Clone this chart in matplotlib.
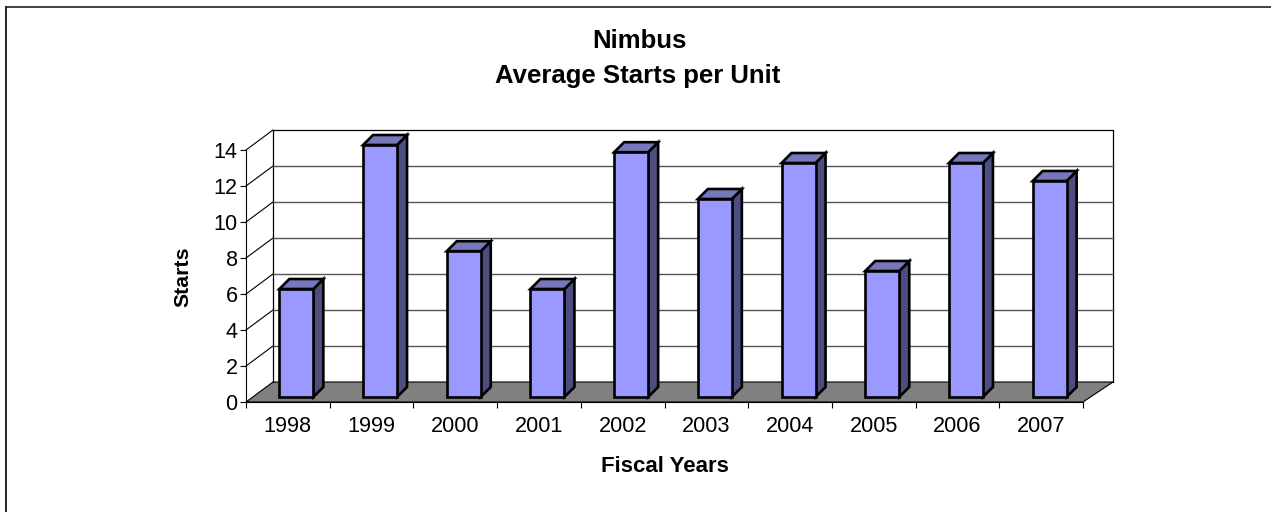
#!/usr/bin/env python3
# -*- coding: utf-8 -*-

# Import libraries
import matplotlib
matplotlib.use("Agg")
import matplotlib.pyplot as plt
from matplotlib.patches import Polygon

# Chart data
years = ["1998", "1999", "2000", "2001", "2002", "2003", "2004", "2005", "2006", "2007"]
starts = [6, 14, 8.1, 6, 13.6, 11, 13, 7, 13, 12]
y_ticks = [0, 2, 4, 6, 8, 10, 12, 14]

W, H = 1271, 512
plt.rcParams["font.family"] = ["Liberation Sans", "DejaVu Sans"]

fig = plt.figure(figsize=(W / 100, H / 100), dpi=100)

# Front plane of the fake 3D box, placed in pixels
left, right, base, top = 246, 1083, 402, 150
ax = fig.add_axes([left / W, 1 - base / H, (right - left) / W, (base - top) / H])
ax.set_xlim(0, len(years))
ax.set_ylim(0, 14)
ax.patch.set_visible(False)

# Depth of the box in data units
n = len(years)
px_x = (right - left) / n
px_y = (base - top) / 14
dx_l = 27 / px_x
dx_r = 30 / px_x
dy = 20 / px_y

# Floor and back wall
ax.add_patch(Polygon([(0, 0), (n, 0), (n + dx_r, dy), (dx_l, dy)], fc="#808080", ec="black", lw=0.8, clip_on=False, zorder=1))
ax.plot([dx_l, dx_l, n + dx_r, n + dx_r], [dy, 14 + dy, 14 + dy, dy], color="black", lw=0.9, clip_on=False, zorder=2)
ax.plot([0, dx_l], [14, 14 + dy], color="black", lw=0.8, clip_on=False, zorder=2)

# Grid on back wall and left wall
for t in y_ticks[1:-1]:
    ax.plot([dx_l, n + dx_r], [t + dy, t + dy], color="#555555", lw=1.0, clip_on=False, zorder=2)
    ax.plot([0, dx_l], [t, t + dy], color="black", lw=0.8, clip_on=False, zorder=2)

# Bars: front, top and side faces
bar_w = 34 / px_x
depth_x = 10 / px_x
depth_y = 10 / px_y
off_x = 8.5 / px_x
off_y = 5 / px_y
for i, v in enumerate(starts):
    x0 = i + 0.5 - bar_w / 2 + off_x
    x1 = x0 + bar_w
    y0 = off_y
    y1 = v + off_y
    ec = dict(ec="black", lw=1.9, joinstyle="miter", clip_on=False, zorder=3)
    ax.add_patch(Polygon([(x1, y0), (x1 + depth_x, y0 + depth_y), (x1 + depth_x, y1 + depth_y), (x1, y1)], fc="#4D4D80", **ec))
    ax.add_patch(Polygon([(x0, y1), (x1, y1), (x1 + depth_x, y1 + depth_y), (x0 + depth_x, y1 + depth_y)], fc="#7777BB", **ec))
    ax.add_patch(Polygon([(x0, y0), (x1, y0), (x1, y1), (x0, y1)], fc="#9999FF", **ec))

# Axes
for s in ["top", "right"]:
    ax.spines[s].set_visible(False)
for s in ["left", "bottom"]:
    ax.spines[s].set_linewidth(0.8)
ax.set_yticks(y_ticks)
ax.set_xticks(range(n + 1))
ax.set_xticklabels([])
ax.set_xticks([i + 0.5 for i in range(n)], labels=years, minor=True)
ax.tick_params(axis="x", which="major", length=4, width=0.8, direction="out")
ax.tick_params(axis="x", which="minor", length=0, pad=10, labelsize=15.6)
ax.tick_params(axis="y", length=4, width=0.8, pad=2, labelsize=15.6)

# Titles
fig.text(639 / W, 1 - 40.5 / H, "Nimbus", ha="center", va="center", fontsize=18.5, fontweight="bold")
fig.text(638 / W, 1 - 76.5 / H, "Average Starts per Unit", ha="center", va="center", fontsize=18.5, fontweight="bold")
fig.text(183 / W, 1 - 277 / H, "Starts", ha="center", va="center", rotation=90, fontsize=15.3, fontweight="bold")
fig.text(665 / W, 1 - 467 / H, "Fiscal Years", ha="center", va="center", fontsize=16, fontweight="bold")

# Chart border (left and top only are visible in the source image)
fig.add_artist(plt.Line2D([6 / W, 6 / W], [0, 1 - 7 / H], color="#222222", lw=1.4))
fig.add_artist(plt.Line2D([6 / W, 1], [1 - 7 / H, 1 - 7 / H], color="#222222", lw=1.2))

plt.savefig("out.png", dpi=100)
plt.close()
